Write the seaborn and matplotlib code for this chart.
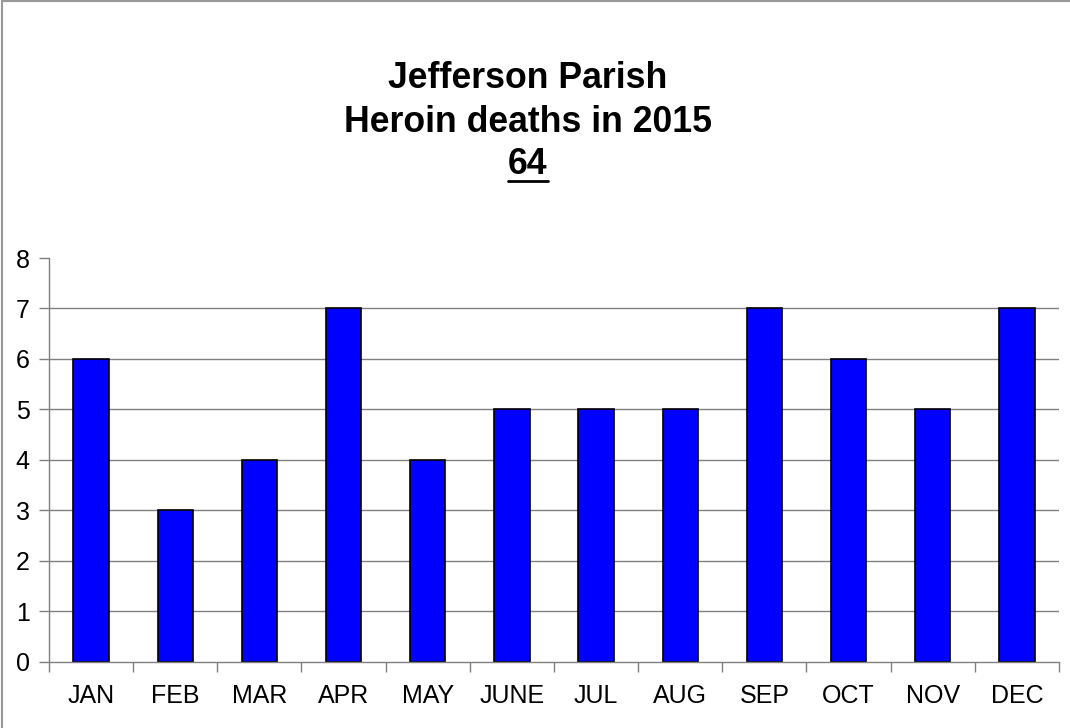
import matplotlib
matplotlib.use("Agg")
import matplotlib.pyplot as plt
from matplotlib.lines import Line2D
import seaborn as sns
import pandas as pd
import numpy as np

# --- data ---
months = ["JAN", "FEB", "MAR", "APR", "MAY", "JUNE", "JUL", "AUG", "SEP", "OCT", "NOV", "DEC"]
deaths = [6, 3, 4, 7, 4, 5, 5, 5, 7, 6, 5, 7]
total_label = "64"

df = pd.DataFrame({"month": months, "deaths": deaths})

sns.set_style("white")
plt.rcParams["font.family"] = ["Liberation Sans", "DejaVu Sans"]
plt.rcParams["text.color"] = "black"
plt.rcParams["xtick.labelcolor"] = "black"
plt.rcParams["ytick.labelcolor"] = "black"

fig = plt.figure(figsize=(10.7, 7.28), dpi=100)
ax = fig.add_axes([0.0458, 0.0907, 0.9439, 0.5549])

sns.barplot(data=df, x="month", y="deaths", color="#0000FF", saturation=1,
            edgecolor="black", linewidth=1.2, width=0.42, ax=ax)

ax.set_ylim(0, 8)
ax.set_xlim(-0.5, len(months) - 0.5)
ax.set_yticks(range(0, 9))
ax.set_xlabel("")
ax.set_ylabel("")
ax.tick_params(axis="y", labelsize=18, length=7, width=1, color="#808080",
               left=True, direction="out", pad=7, labelcolor="black")
ax.tick_params(axis="x", which="major", labelsize=18, length=0, pad=16,
               labelcolor="black")
ax.set_xticks(np.arange(-0.5, len(months)), minor=True)
ax.tick_params(axis="x", which="minor", length=7, width=1, color="#808080",
               bottom=True, direction="out")

ax.yaxis.grid(True, color="#808080", linewidth=1)
ax.set_axisbelow(True)
ax.get_ygridlines()[-1].set_visible(False)
ax.get_ygridlines()[0].set_visible(False)

for side in ["top", "right"]:
    ax.spines[side].set_visible(False)
for side in ["left", "bottom"]:
    ax.spines[side].set_color("#808080")
    ax.spines[side].set_linewidth(1)

# title block
cx = 528 / 1070
fig.text(cx, 1 - 78 / 728, "Jefferson Parish", ha="center", va="center",
         fontsize=25.7, fontweight="bold")
fig.text(cx, 1 - 122 / 728, "Heroin deaths in 2015", ha="center", va="center",
         fontsize=25.7, fontweight="bold")
t = fig.text(cx, 1 - 164 / 728, total_label, ha="center", va="center",
             fontsize=25.7, fontweight="bold")

fig.canvas.draw()
bb = t.get_window_extent().transformed(fig.transFigure.inverted())
fig.add_artist(Line2D([bb.x0, bb.x1], [bb.y0 + 0.001, bb.y0 + 0.001],
                      transform=fig.transFigure, color="black", linewidth=2))

# partial figure frame (top and left edges)
fig.add_artist(Line2D([0.002, 1], [0.998, 0.998], transform=fig.transFigure,
                      color="#999999", linewidth=1.5))
fig.add_artist(Line2D([0.002, 0.002], [0, 0.998], transform=fig.transFigure,
                      color="#999999", linewidth=1.5))

fig.savefig("out.png", dpi=100)
